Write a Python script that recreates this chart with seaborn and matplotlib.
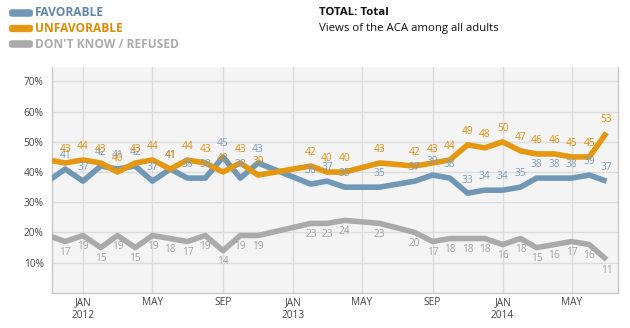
import matplotlib
matplotlib.use("Agg")
import matplotlib.pyplot as plt
import matplotlib.dates as mdates
from matplotlib.patches import FancyBboxPatch
import pandas as pd
import seaborn as sns

# Monthly tracking poll results (percent of all adults)
months = ["2011-11", "2011-12", "2012-01", "2012-02", "2012-03", "2012-04",
          "2012-05", "2012-06", "2012-07", "2012-08", "2012-09", "2012-10",
          "2012-11", "2013-02", "2013-03", "2013-04", "2013-06", "2013-08",
          "2013-09", "2013-10", "2013-11", "2013-12", "2014-01", "2014-02",
          "2014-03", "2014-04", "2014-05", "2014-06", "2014-07"]
favorable = [37, 41, 37, 42, 41, 42, 37, 41, 38, 38, 45, 38, 43, 36, 37, 35,
             35, 37, 39, 38, 33, 34, 34, 35, 38, 38, 38, 39, 37]
unfavorable = [44, 43, 44, 43, 40, 43, 44, 41, 44, 43, 40, 43, 39, 42, 40, 40,
               43, 42, 43, 44, 49, 48, 50, 47, 46, 46, 45, 45, 53]
dont_know = [19, 17, 19, 15, 19, 15, 19, 18, 17, 19, 14, 19, 19, 23, 23, 24,
             23, 20, 17, 18, 18, 18, 16, 18, 15, 16, 17, 16, 11]

series_names = ["FAVORABLE", "UNFAVORABLE", "DON'T KNOW / REFUSED"]
y_ticks = [10, 20, 30, 40, 50, 60, 70]

line_colors = {"FAVORABLE": "#7097b5", "UNFAVORABLE": "#e5980f",
               "DON'T KNOW / REFUSED": "#aaaaaa"}
label_colors = {"FAVORABLE": "#7d9dba", "UNFAVORABLE": "#e08e0b",
                "DON'T KNOW / REFUSED": "#a3a3a3"}
legend_text_colors = {"FAVORABLE": "#5d87a8", "UNFAVORABLE": "#e08a00",
                      "DON'T KNOW / REFUSED": "#ababab"}

sns.set_style("white")
plt.rcParams["font.family"] = ["Open Sans", "DejaVu Sans"]

dates = pd.to_datetime([m + "-01" for m in months])
wide = pd.DataFrame({"date": dates,
                     "FAVORABLE": favorable,
                     "UNFAVORABLE": unfavorable,
                     "DON'T KNOW / REFUSED": dont_know})
long = wide.melt(id_vars="date", var_name="series", value_name="pct")

fig = plt.figure(figsize=(6.3, 3.28), dpi=100)
ax = fig.add_axes([0.0825, 0.107, 0.8985, 0.689])
ax.set_facecolor("#f4f4f4")

draw_order = ["DON'T KNOW / REFUSED", "FAVORABLE", "UNFAVORABLE"]
sns.lineplot(data=long, x="date", y="pct", hue="series", hue_order=draw_order,
             palette=line_colors, linewidth=4.0, legend=False, ax=ax,
             zorder=3)
for ln in ax.lines:
    ln.set_solid_joinstyle("round")
    ln.set_solid_capstyle("butt")

x_start = pd.Timestamp("2011-11-08")
x_end = pd.Timestamp("2014-07-21")
ax.set_xlim(x_start, x_end)
ax.set_ylim(0, 74.8)

# value labels: above for the two opinion series, below for the rest
offsets = {"FAVORABLE": 9.5, "UNFAVORABLE": 9.5, "DON'T KNOW / REFUSED": -8.0}
for name in draw_order:
    sub = long[long["series"] == name]
    for d, v in zip(sub["date"], sub["pct"]):
        if d < x_start:
            continue
        ax.annotate(f"{v}", (d, v), xytext=(0, offsets[name]),
                    textcoords="offset points", ha="center", va="center",
                    fontsize=7.3, color=label_colors[name], zorder=5)

# axes styling
ax.set_yticks(y_ticks)
ax.set_yticklabels([f"{t}%" for t in y_ticks])
ax.xaxis.set_major_locator(mdates.MonthLocator(bymonth=[1, 5, 9]))


def month_label(x, pos=None):
    d = mdates.num2date(x)
    name = d.strftime("%b").upper()
    return f"{name}\n{d.year}" if d.month == 1 else name


ax.xaxis.set_major_formatter(plt.FuncFormatter(month_label))
ax.grid(True, color="#dcdcdc", linewidth=1.0)
ax.set_axisbelow(True)
ax.tick_params(axis="both", length=0, labelsize=7.3, colors="#444444")
ax.tick_params(axis="y", pad=6)
ax.tick_params(axis="x", pad=3)
ax.set_xlabel("")
ax.set_ylabel("")
for side in ["left", "bottom", "right"]:
    ax.spines[side].set_color("#c9c9c9")
    ax.spines[side].set_linewidth(1.0)
ax.spines["top"].set_visible(False)

# legend in the upper left corner
W, H = 630.0, 328.0
legend_y = [13, 28.5, 44]
for name, yc in zip(series_names, legend_y):
    patch = FancyBboxPatch((11 / W, (H - yc - 2.5) / H), 20 / W, 5 / H,
                           boxstyle="round,pad=0.002,rounding_size=0.004",
                           transform=fig.transFigure, facecolor=line_colors[name],
                           edgecolor=line_colors[name], linewidth=0.8)
    fig.patches.append(patch)
    fig.text(35 / W, (H - yc) / H, name, ha="left", va="center",
             fontsize=8.6, fontweight="bold", color=legend_text_colors[name])

fig.text(319 / W, (H - 12.5) / H, "TOTAL: Total", ha="left", va="center",
         fontsize=8.2, fontweight="bold", color="#111111")
fig.text(319 / W, (H - 28) / H, "Views of the ACA among all adults",
         ha="left", va="center", fontsize=8.2, color="#111111")

fig.savefig("out.png", dpi=100, facecolor="white")
